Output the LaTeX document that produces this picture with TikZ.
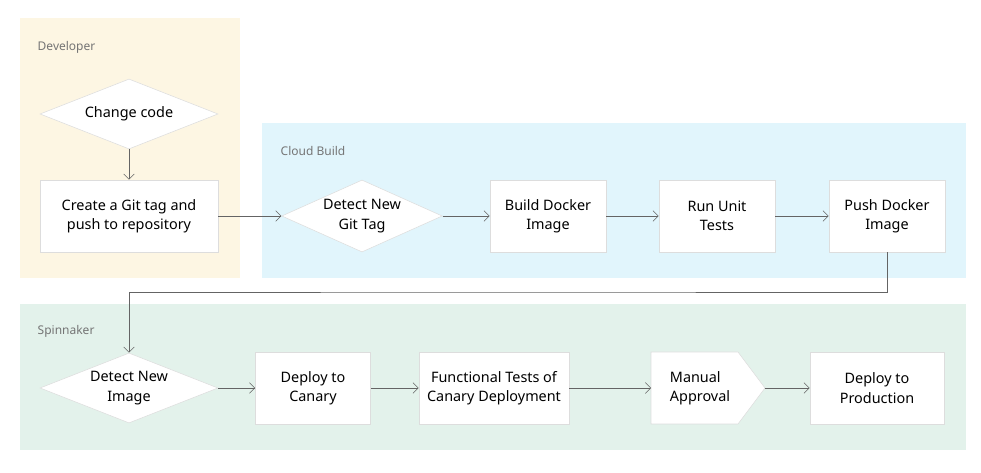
\documentclass[tikz,border=0pt]{standalone}
\usepackage{fontspec}
\setmainfont{Noto Sans}
\usetikzlibrary{shapes.geometric,arrows.meta}
\definecolor{devbg}{RGB}{253,246,227}
\definecolor{cloudbg}{RGB}{225,245,252}
\definecolor{spinbg}{RGB}{227,242,235}
\definecolor{edge}{RGB}{221,221,221}
\definecolor{wire}{RGB}{100,100,100}
\definecolor{lbl}{RGB}{117,117,117}
\tikzset{
  lanelabel/.style={anchor=west,text=lbl,font=\fontsize{9}{11}\selectfont},
  stage/.style={draw=edge,fill=white,rectangle,inner sep=0pt,align=center,font=\fontsize{10.8}{14.5}\selectfont},
  check/.style={draw=edge,fill=white,diamond,aspect=2.5,inner sep=0pt,align=center,font=\fontsize{10.8}{14.5}\selectfont},
  flow/.style={draw=wire,-{Straight Barb[length=4pt,width=8pt]}}
}
\begin{document}
\begin{tikzpicture}[x=0.75pt,y=-0.75pt]
\useasboundingbox (0,0) rectangle (981,473);
% lanes
\fill[devbg] (20,18) rectangle (240,278);
\fill[cloudbg] (262,123) rectangle (966,278);
\fill[spinbg] (20,304) rectangle (966,450);
\node[lanelabel] (dev) at (33,47) {Developer};
\node[lanelabel] (cb) at (276,151) {Cloud Build};
\node[lanelabel] (spin) at (33,331) {Spinnaker};
% developer
\node[check,minimum width=178*0.75pt,minimum height=70*0.75pt] (change) at (129,114) {Change code};
\node[stage,minimum width=178*0.75pt,minimum height=72*0.75pt] (tag) at (129,216) {Create a Git tag and\\push to repository};
% cloud build
\node[check,minimum width=155*0.75pt,minimum height=72*0.75pt] (detecttag) at (362,216) {Detect New\\Git Tag};
\node[stage,minimum width=116*0.75pt,minimum height=72*0.75pt] (build) at (548,216) {Build Docker\\Image};
\node[stage,minimum width=116*0.75pt,minimum height=72*0.75pt] (tests) at (717,216) {Run Unit\\Tests};
\node[stage,minimum width=116*0.75pt,minimum height=72*0.75pt] (push) at (887,216) {Push Docker\\Image};
% spinnaker
\node[check,minimum width=178*0.75pt,minimum height=70*0.75pt] (detectimg) at (129,388) {Detect New\\Image};
\node[stage,minimum width=115*0.75pt,minimum height=72*0.75pt] (canary) at (313,388) {Deploy to\\Canary};
\node[stage,minimum width=150*0.75pt,minimum height=72*0.75pt] (functional) at (494,388) {Functional Tests of\\Canary Deployment};
\draw[edge,fill=white] (651,352) -- (738,352) -- (765,388) -- (738,424) -- (651,424) -- cycle;
\node[align=left,font=\fontsize{10.8}{14.5}\selectfont] (approval) at (700,388) {Manual\\Approval};
\coordinate (approvalin) at (651,388);
\coordinate (approvaltip) at (765,388);
\node[stage,minimum width=134*0.75pt,minimum height=72*0.75pt] (prod) at (877,388) {Deploy to\\Production};
% connectors
\draw[flow] (change) -- (tag);
\draw[flow] (tag) -- (detecttag);
\draw[flow] (detecttag) -- (build);
\draw[flow] (build) -- (tests);
\draw[flow] (tests) -- (push);
\draw[flow] (push.south) |- (508,292) -| (detectimg.north);
\draw[flow] (detectimg) -- (canary);
\draw[flow] (canary) -- (functional);
\draw[flow] (functional) -- (approvalin);
\draw[flow] (approvaltip) -- (prod);
\end{tikzpicture}
\end{document}
